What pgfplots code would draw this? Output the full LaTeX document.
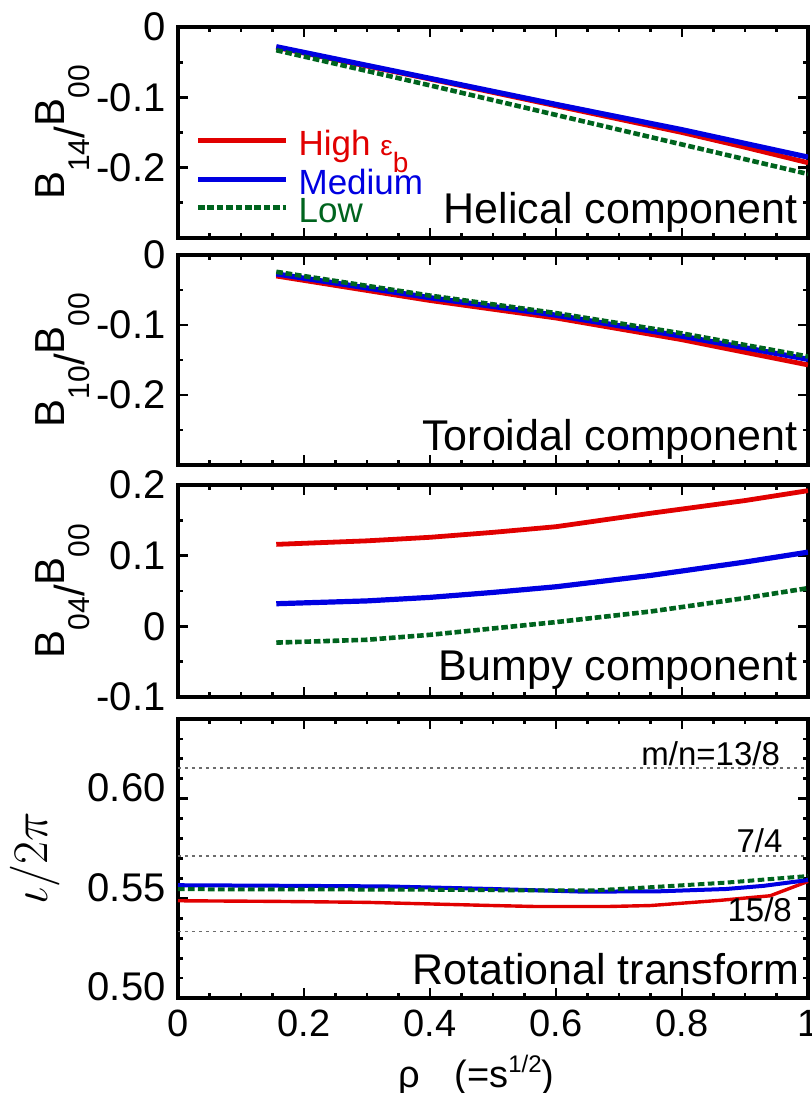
\documentclass[border=0pt]{standalone}
\usepackage{fontspec}
\setmainfont{Liberation Sans}
\usepackage{pgfplots}
\pgfplotsset{compat=1.18}

\definecolor{cR}{RGB}{225,0,0}
\definecolor{cB}{RGB}{0,0,225}
\definecolor{cG}{RGB}{0,100,30}
\newcommand\fs[1]{\fontsize{#1}{#1}\selectfont}

\pgfplotsset{
  panel/.style={
    scale only axis, width=315pt, xmin=0, xmax=1,
    xtick={0,0.2,0.4,0.6,0.8,1}, minor x tick num=3,
    xticklabels={,,,,,},
    tick align=inside, major tick length=5pt, minor tick length=2.5pt,
    tick style={black, line width=1.4pt},
    axis line style={line width=2pt},
    yticklabel style={font=\fs{20}, inner sep=0pt, xshift=-6pt},
    xticklabel style={font=\fs{19}, inner sep=0pt, yshift=-6pt},
    ylabel style={font=\fs{21}},
  },
  redl/.style={cR, line width=2.4pt},
  bluel/.style={cB, line width=2.6pt},
  greenl/.style={cG, line width=2.3pt, dash pattern=on 3.3pt off 1.4pt},
}

\begin{document}
\begin{tikzpicture}
% Panel 1: helical
\begin{axis}[panel, at={(0pt,-13.5pt)}, anchor=north west, height=105.5pt,
  ymin=-0.3, ymax=0, ytick={-0.2,-0.1,0}, yticklabels={-0.2,-0.1,0},
  minor ytick={-0.25,-0.15,-0.05},
  ylabel={B\raisebox{-12.5pt}{\fs{15}14}\raisebox{-10pt}{/}B\raisebox{-12.5pt}{\fs{15}00}},
  legend style={at={(axis description cs:0.027,0.512)}, anchor=north west,
    draw=none, fill=none, inner sep=0pt, row sep=0.7pt, column sep=5pt,
    font=\fs{17.5}, nodes={inner sep=0pt}, cells={anchor=base west}},
  legend image code/.code={\draw[#1] (0pt,7.5pt) -- (44pt,7.5pt);},
]
\addplot[redl] coordinates {(0.156,-0.029) (0.4,-0.074) (0.6,-0.112) (0.8,-0.150) (0.9,-0.171) (1.0,-0.193)};
\addlegendentry{\textcolor{cR}{High \fs{14}ε\raisebox{-8.2pt}{b}}}
\addplot[bluel] coordinates {(0.156,-0.028) (0.4,-0.073) (0.6,-0.110) (0.8,-0.146) (1.0,-0.185)};
\addlegendentry{\textcolor{cB}{\rule{0pt}{17pt}Medium}}
\addplot[greenl] coordinates {(0.156,-0.033) (0.4,-0.083) (0.6,-0.125) (0.8,-0.167) (1.0,-0.209)};
\addlegendentry{\textcolor{cG}{Low}}
\node[anchor=base east, inner sep=0pt, font=\fs{21.5}] at (axis description cs:0.984,0.071) {Helical component};
\end{axis}

% Panel 2: toroidal
\begin{axis}[panel, at={(0pt,-127.5pt)}, anchor=north west, height=105pt,
  ymin=-0.3, ymax=0, ytick={-0.2,-0.1,0}, yticklabels={-0.2,-0.1,0},
  minor ytick={-0.25,-0.15,-0.05},
  ylabel={B\raisebox{-12.5pt}{\fs{15}10}\raisebox{-10pt}{/}B\raisebox{-12.5pt}{\fs{15}00}},
]
\addplot[redl] coordinates {(0.156,-0.030) (0.4,-0.065) (0.6,-0.090) (0.8,-0.121) (1.0,-0.157)};
\addplot[bluel] coordinates {(0.156,-0.027) (0.4,-0.061) (0.6,-0.086) (0.8,-0.116) (1.0,-0.149)};
\addplot[greenl] coordinates {(0.156,-0.024) (0.4,-0.058) (0.6,-0.083) (0.8,-0.112) (1.0,-0.145)};
\node[anchor=base east, inner sep=0pt, font=\fs{21.5}] at (axis description cs:0.984,0.071) {Toroidal component};
\end{axis}

% Panel 3: bumpy
\begin{axis}[panel, at={(0pt,-242.5pt)}, anchor=north west, height=106pt,
  ymin=-0.1, ymax=0.2, ytick={-0.1,0,0.1,0.2}, yticklabels={-0.1,0,0.1,0.2},
  minor ytick={-0.05,0.05,0.15},
  ylabel={B\raisebox{-12.5pt}{\fs{15}04}\raisebox{-10pt}{/}B\raisebox{-12.5pt}{\fs{15}00}},
]
\addplot[redl] coordinates {(0.156,0.116) (0.3,0.121) (0.4,0.126) (0.5,0.133) (0.6,0.141) (0.75,0.160) (0.9,0.178) (1.0,0.192)};
\addplot[bluel] coordinates {(0.156,0.032) (0.3,0.036) (0.4,0.041) (0.5,0.048) (0.6,0.056) (0.75,0.072) (0.9,0.091) (1.0,0.105)};
\addplot[greenl] coordinates {(0.156,-0.023) (0.3,-0.019) (0.4,-0.012) (0.5,-0.003) (0.6,0.006) (0.75,0.021) (0.9,0.040) (1.0,0.054)};
\node[anchor=base east, inner sep=0pt, font=\fs{21.5}] at (axis description cs:0.984,0.08) {Bumpy component};
\end{axis}

% Panel 4: rotational transform
\begin{axis}[panel, at={(0pt,-359.5pt)}, anchor=north west, height=139.5pt, clip=false,
  ymin=0.5, ymax=0.64, ytick={0.5,0.55,0.6}, yticklabels={0.50,0.55,0.60},
  minor ytick={0.51,0.52,0.53,0.54,0.56,0.57,0.58,0.59,0.61,0.62,0.63},
  yticklabel style={yshift=5.5pt},
  xticklabels={0,0.2,0.4,0.6,0.8,1},
  xlabel style={at={(axis description cs:0.474,0)}, anchor=base, yshift=-44.5pt, font=\fs{19}},
  xlabel={ρ\hspace{17pt}(=s\raisebox{7.5pt}{\fs{12}1/2})},
]
\addplot[gray!85!black, line width=0.8pt, dash pattern=on 1.5pt off 2pt] coordinates {(0,0.6154) (1,0.6154)};
\addplot[gray!85!black, line width=0.8pt, dash pattern=on 1.5pt off 2pt] coordinates {(0,0.5714) (1,0.5714)};
\addplot[gray!85!black, line width=0.8pt, dash pattern=on 1.5pt off 2pt] coordinates {(0,0.5333) (1,0.5333)};
\addplot[cR, line width=1.7pt] coordinates {(0,0.5488) (0.15,0.5485) (0.3,0.5480) (0.5,0.5464) (0.57,0.5459) (0.68,0.5459) (0.75,0.5464) (0.86,0.5490) (0.94,0.5513) (1.0,0.5585)};
\addplot[cB, line width=2pt] coordinates {(0,0.5566) (0.18,0.5563) (0.33,0.5560) (0.5,0.5547) (0.64,0.5534) (0.76,0.5535) (0.87,0.5547) (0.93,0.5563) (1.0,0.5592)};
\addplot[cG, line width=2pt, dash pattern=on 3.3pt off 1.7pt] coordinates {(0,0.5546) (0.37,0.5544) (0.54,0.5540) (0.66,0.5540) (0.74,0.5554) (0.87,0.5579) (1.0,0.5612)};
\node[anchor=base east, inner sep=0pt, font=\fs{16.5}, yshift=1.5pt] at (axis cs:0.956,0.6154) {m/n=13/8};
\node[anchor=base east, inner sep=0pt, font=\fs{16.5}, yshift=1.5pt] at (axis cs:0.960,0.5714) {7/4};
\node[anchor=base east, inner sep=0pt, font=\fs{16.5}, yshift=5pt] at (axis cs:0.975,0.5333) {15/8};
\node[anchor=base east, inner sep=0pt, font=\fs{21.5}] at (axis description cs:0.987,0.047) {Rotational transform};
\node[rotate=90, anchor=center, inner sep=0pt, font=\fs{23}] at (axis description cs:-0.227,0.5) {$\iota/2\pi$};
\end{axis}

\pgfresetboundingbox
\useasboundingbox (-89pt,-546.5pt) rectangle (317pt,0pt);
\end{tikzpicture}
\end{document}
